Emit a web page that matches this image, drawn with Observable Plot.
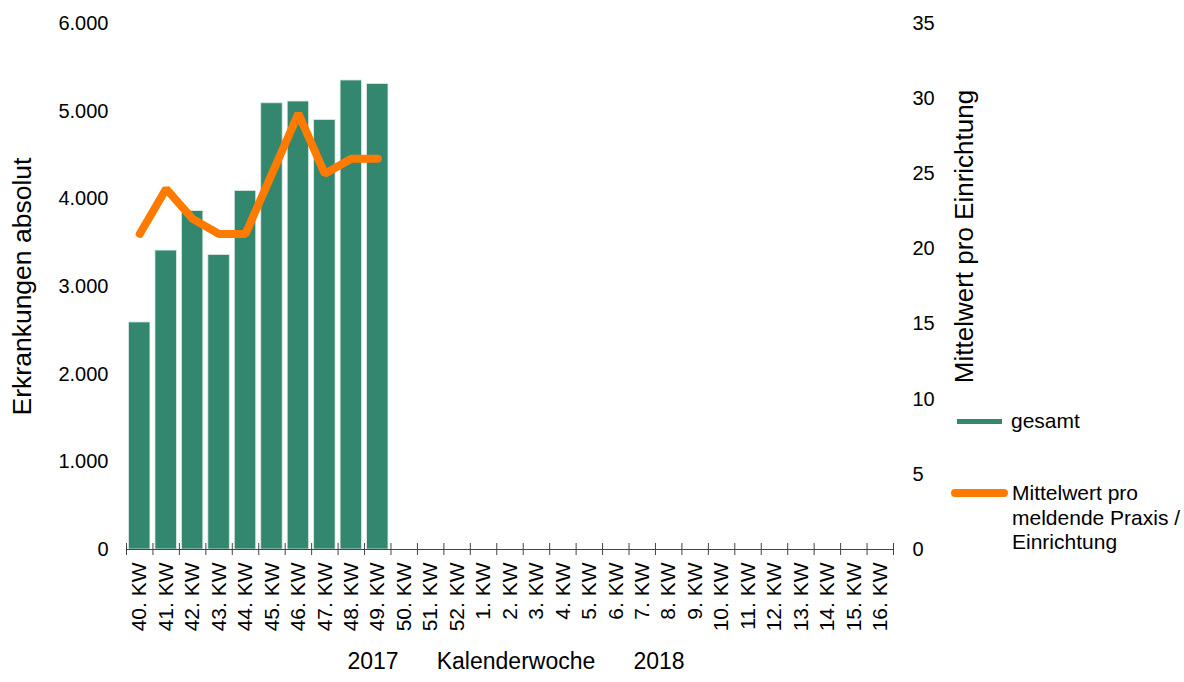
<!DOCTYPE html>
<html>
<head>
<meta charset="utf-8">
<script src="https://cdn.jsdelivr.net/npm/d3@7"></script>
<script src="https://cdn.jsdelivr.net/npm/@observablehq/plot@0.6"></script>
<style>
  html, body { margin: 0; padding: 0; background: #fff; }
  #wrap { position: relative; width: 1184px; height: 682px; font-family: "Liberation Sans", Arial, sans-serif; color: #000; }
  .leg { position: absolute; }
  .legtext { position: absolute; font-size: 21px; line-height: 24.5px; white-space: nowrap; }
</style>
</head>
<body>
<div id="wrap"></div>
<script>
// ---- data ----
const weeks = ["40. KW","41. KW","42. KW","43. KW","44. KW","45. KW","46. KW","47. KW","48. KW","49. KW",
  "50. KW","51. KW","52. KW","1. KW","2. KW","3. KW","4. KW","5. KW","6. KW","7. KW","8. KW","9. KW",
  "10. KW","11. KW","12. KW","13. KW","14. KW","15. KW","16. KW"];
const gesamt = [2590, 3410, 3860, 3360, 4090, 5090, 5110, 4900, 5350, 5310];
const mittelwert = [21, 24, 22, 21, 21, 25, 29, 25, 26, 26];
const leftTicks = [0, 1000, 2000, 3000, 4000, 5000, 6000];
const rightTicks = [0, 5, 10, 15, 20, 25, 30, 35];
const leftMax = 6000, rightMax = 35;

const teal = "#34876f", orange = "#ff7b00";
const W = 1184, H = 682, mL = 126, mR = 291, mT = 23, mB = 133;
const step = (W - mL - mR) / weeks.length;
const k = leftMax / rightMax;

const rows = gesamt.map((v, i) => ({week: weeks[i], gesamt: v, mittel: mittelwert[i], mittelScaled: mittelwert[i] * k}));
const fmtDE = d => d3.format(",")(d).replace(/,/g, ".");

const chart = Plot.plot({
  width: W, height: H,
  marginLeft: mL, marginRight: mR, marginTop: mT, marginBottom: mB,
  style: {fontSize: "20px", fontFamily: "'Liberation Sans', Arial, sans-serif", color: "#000", background: "#fff", overflow: "visible"},
  x: {type: "band", domain: weeks, padding: 0, round: false},
  y: {domain: [0, leftMax]},
  marks: [
    Plot.axisY({anchor: "left", ticks: leftTicks, tickFormat: fmtDE, tickSize: 0, tickPadding: 18, label: null}),
    Plot.axisY({anchor: "right", ticks: rightTicks.map(d => d * k), tickFormat: d => String(Math.round(d / k)), tickSize: 0, tickPadding: 19, label: null}),
    Plot.axisX({tickRotate: -90, tickSize: 0, tickPadding: 13, fontSize: 21, label: null}),
    Plot.barY(rows, {x: "week", y: "gesamt", fill: teal, stroke: "#dfeae6", strokeWidth: 0.8, insetLeft: 2.5, insetRight: 2.5}),
    Plot.ruleY([0], {stroke: "#444", strokeWidth: 1.2}),
    Plot.ruleX(weeks, {x: d => d, dx: -step / 2, stroke: "#444", insetTop: (H - mT - mB) - 6, insetBottom: -6}),
    Plot.ruleX([weeks[weeks.length - 1]], {x: d => d, dx: step / 2, stroke: "#444", insetTop: (H - mT - mB) - 6, insetBottom: -6}),
    Plot.line(rows, {x: "week", y: "mittelScaled", stroke: orange, strokeWidth: 8, strokeLinecap: "round", strokeLinejoin: "miter"}),
    Plot.text(["Erkrankungen absolut"], {frameAnchor: "left", textAnchor: "middle", rotate: -90, dx: -104, dy: 0, fontSize: 26.5, fill: "#000"}),
    Plot.text(["Mittelwert pro Einrichtung"], {frameAnchor: "right", textAnchor: "middle", rotate: -90, dx: 71, dy: -50, fontSize: 26, fill: "#000"}),
    Plot.text(["2017"], {frameAnchor: "bottom", dx: -137, dy: 119, fontSize: 23, fill: "#000"}),
    Plot.text(["Kalenderwoche"], {frameAnchor: "bottom", dx: 6, dy: 119, fontSize: 23, fill: "#000"}),
    Plot.text(["2018"], {frameAnchor: "bottom", dx: 149, dy: 119, fontSize: 23, fill: "#000"})
  ]
});

const wrap = document.getElementById("wrap");
wrap.appendChild(chart);

function addDiv(cls, css, html) {
  const d = document.createElement("div");
  d.className = cls;
  Object.assign(d.style, css);
  if (html) d.innerHTML = html;
  wrap.appendChild(d);
}
addDiv("leg", {left: "957px", top: "419px", width: "45px", height: "5px", background: teal});
addDiv("legtext", {left: "1011px", top: "409px"}, "gesamt");
addDiv("leg", {left: "951px", top: "489px", width: "57px", height: "8px", background: orange, borderRadius: "4px"});
addDiv("legtext", {left: "1012px", top: "481px"}, "Mittelwert pro<br>meldende Praxis /<br>Einrichtung");
</script>
</body>
</html>
